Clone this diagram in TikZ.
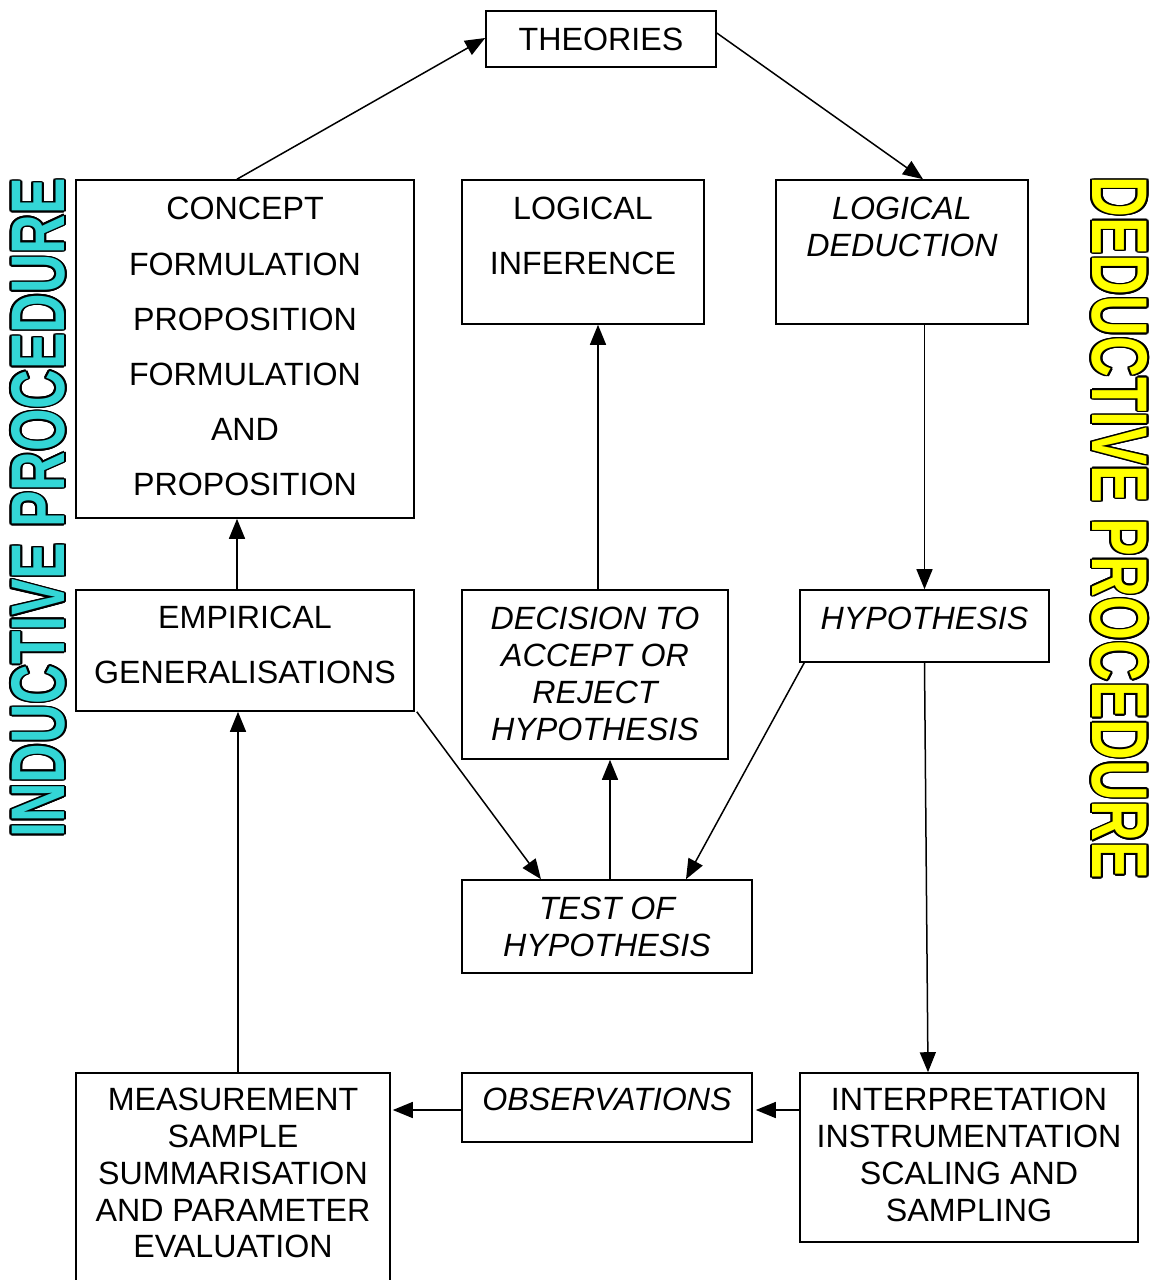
\documentclass[tikz,border=0pt]{standalone}
\usepackage{fontspec}
\setmainfont{Liberation Sans}
\usepackage[copies]{contour}
\usetikzlibrary{arrows.meta}
\definecolor{indcyan}{RGB}{51,214,214}
\definecolor{dedyellow}{RGB}{255,255,0}
\begin{document}
\begin{tikzpicture}[x=1pt,y=-1pt,
  box/.style={draw=black,line width=1.6pt,rectangle,inner sep=0pt},
  txt/.style={inner sep=0pt,anchor=north,align=center,font=\fontsize{32.2}{#1}\selectfont},
  txt/.default=55,
  itxt/.style={txt=#1,font=\fontsize{32.2}{#1}\selectfont\itshape},
  itxt/.default=36.7,
  arr/.style={line width=1.5pt,-{Triangle[length=20pt,width=16pt]}}]
\useasboundingbox (0,0) rectangle (1162,1280);
\clip (0,0) rectangle (1162,1280);
% boxes
\node[box,minimum width=230pt,minimum height=56pt] (theories) at (601,39) {};
\node[box,minimum width=338pt,minimum height=338pt] (concept) at (245,349) {};
\node[box,minimum width=242pt,minimum height=144pt] (inference) at (583,252) {};
\node[box,minimum width=252pt,minimum height=144pt] (deduction) at (902,252) {};
\node[box,minimum width=338pt,minimum height=121pt] (emp) at (245,650.5) {};
\node[box,minimum width=266pt,minimum height=169pt] (decision) at (595,674.5) {};
\node[box,minimum width=249pt,minimum height=72pt] (hyp) at (924.5,626) {};
\node[box,minimum width=290pt,minimum height=93pt] (test) at (607,926.5) {};
\node[box,minimum width=314pt,minimum height=220pt] (meas) at (233,1183) {};
\node[box,minimum width=290pt,minimum height=69pt] (obs) at (607,1107.5) {};
\node[box,minimum width=338pt,minimum height=169pt] (interp) at (969,1157.5) {};
% texts
\node[txt] (theoriest) at (601,28.3) {THEORIES};
\node[txt=55.2] (conceptt) at (245,197.3) {CONCEPT\\FORMULATION\\PROPOSITION\\FORMULATION\\AND\\PROPOSITION};
\node[txt=55] (inferencet) at (583,197.3) {LOGICAL\\INFERENCE};
\node[itxt=36.5] (deductiont) at (902,197.3) {LOGICAL\\DEDUCTION};
\node[txt=55] (empt) at (245,606.3) {EMPIRICAL\\GENERALISATIONS};
\node[itxt=36.7] (decisiont) at (595,607.3) {DECISION TO\\ACCEPT OR\\REJECT\\HYPOTHESIS};
\node[itxt] (hypt) at (924.5,607.3) {HYPOTHESIS};
\node[itxt=36.3] (testt) at (607,897.3) {TEST OF\\HYPOTHESIS};
\node[txt=36.75] (meast) at (233,1088.3) {MEASUREMENT\\SAMPLE\\SUMMARISATION\\AND PARAMETER\\EVALUATION};
\node[itxt] (obst) at (607,1088.3) {OBSERVATIONS};
\node[txt=36.75] (interpt) at (969,1088.3) {INTERPRETATION\\INSTRUMENTATION\\SCALING AND\\SAMPLING};
% side labels
\contourlength{2pt}
\node[inner sep=0pt,rotate=90] (induct) at (39,508) {\scalebox{0.72}[1]{\fontsize{76}{76}\selectfont\bfseries\contour{black}{\textcolor{indcyan}{INDUCTIVE PROCEDURE}}}};
\node[inner sep=0pt,rotate=-90] (deduct) at (1119,528) {\scalebox{0.715}[1]{\fontsize{79}{79}\selectfont\bfseries\contour{black}{\textcolor{dedyellow}{DEDUCTIVE PROCEDURE}}}};
% connectors
\draw[arr] ([xshift=-8pt]concept.north) -- ([yshift=1pt]theories.west);
\draw[arr] ([yshift=6pt]theories.east) -- ([xshift=21pt]deduction.north);
\draw[arr] (hyp.north |- deduction.south) -- (hyp.north);
\draw[arr] (hyp.south) -- ([xshift=-41pt]interp.north);
\draw[arr] ([xshift=5pt]hyp.south west) -- ([xshift=79pt]test.north);
\draw[arr] ([xshift=2pt]emp.south east) -- ([xshift=-66pt]test.north);
\draw[arr] ([xshift=3pt]test.north) -- ([xshift=15pt]decision.south);
\draw[arr] ([xshift=3pt]decision.north) -- ([xshift=15pt]inference.south);
\draw[arr] ([xshift=-8pt]emp.north) -- ([xshift=-8pt]concept.south);
\draw[arr] ([xshift=5pt]meas.north) -- ([xshift=-7pt]emp.south);
\draw[arr] ([yshift=-2.5pt]obs.west) -- ([yshift=-2.5pt,xshift=2pt]obs.west -| meas.east);
\draw[arr] ([yshift=-2.5pt]interp.west |- obs.east) -- ([yshift=-2.5pt,xshift=3pt]obs.east);
\end{tikzpicture}
\end{document}
